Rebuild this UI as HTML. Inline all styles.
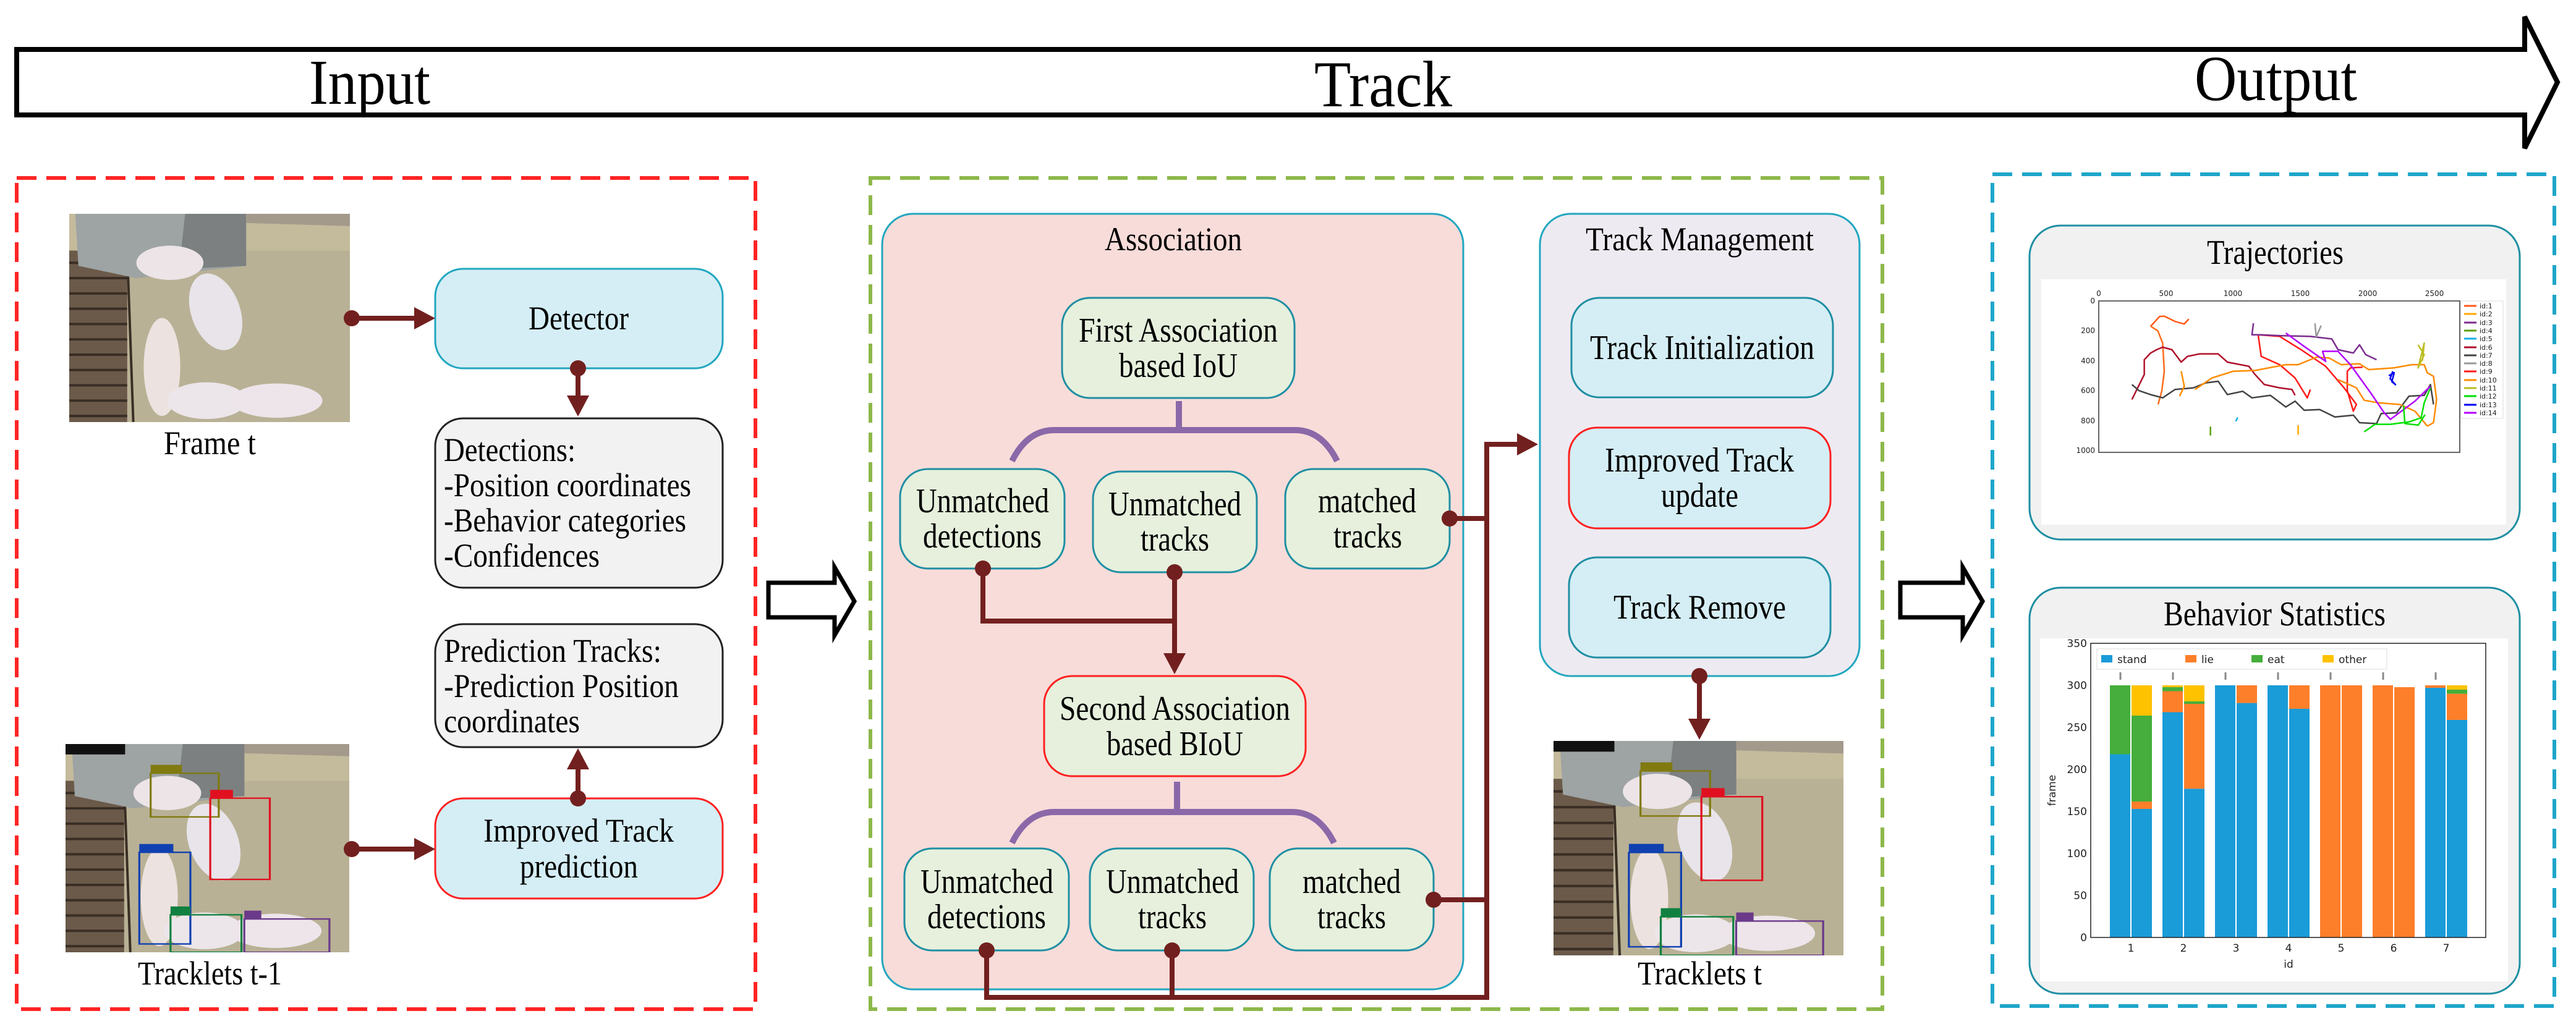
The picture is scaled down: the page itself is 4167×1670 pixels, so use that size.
<!DOCTYPE html>
<html><head><meta charset="utf-8"><style>
html,body{margin:0;padding:0;background:#fff}
svg{display:block}
.t{font-family:"Liberation Serif","DejaVu Serif",serif !important;fill:#000}
.s{font-family:"DejaVu Sans","Liberation Sans",sans-serif}
</style></head><body>
<svg width="4167" height="1670" viewBox="0 0 4167 1670" xmlns="http://www.w3.org/2000/svg">
<defs>
<symbol id="photo" viewBox="0 0 460 340" preserveAspectRatio="none">
<rect width="460" height="340" fill="#c4bb9c"/>
<rect x="90" y="60" width="370" height="280" fill="#b9b195"/>
<rect x="0" y="60" width="95" height="280" fill="#6b5a4a"/>
<g stroke="#3a2e25" stroke-width="4">
<line x1="0" y1="80" x2="95" y2="80"/><line x1="0" y1="105" x2="95" y2="105"/><line x1="0" y1="130" x2="95" y2="130"/><line x1="0" y1="155" x2="95" y2="155"/><line x1="0" y1="180" x2="95" y2="180"/><line x1="0" y1="205" x2="95" y2="205"/><line x1="0" y1="230" x2="95" y2="230"/><line x1="0" y1="255" x2="95" y2="255"/><line x1="0" y1="280" x2="95" y2="280"/><line x1="0" y1="305" x2="95" y2="305"/><line x1="0" y1="330" x2="95" y2="330"/>
<line x1="95" y1="60" x2="105" y2="340"/></g>
<polygon points="10,0 290,0 290,85 110,105 15,85" fill="#9ea3a3"/>
<polygon points="190,0 290,0 290,85 180,90" fill="#7c8080"/>
<polygon points="290,0 460,0 460,20 290,15" fill="#a39a8c"/>
<ellipse cx="165" cy="80" rx="55" ry="28" fill="#ece4e6"/>
<ellipse cx="240" cy="160" rx="40" ry="65" fill="#e8e4ea" transform="rotate(-20 240 160)"/>
<ellipse cx="152" cy="250" rx="30" ry="80" fill="#ece2df"/>
<ellipse cx="225" cy="305" rx="65" ry="30" fill="#ece6ea"/>
<ellipse cx="340" cy="305" rx="75" ry="28" fill="#ede5ea"/>
</symbol>
<symbol id="boxes" viewBox="0 0 100 100" preserveAspectRatio="none">
<g fill="none" stroke-width="0.7">
<rect x="30" y="14" width="24" height="21" stroke="#807a10"/>
<rect x="51" y="26" width="21" height="39" stroke="#e01020"/>
<rect x="26" y="52" width="18" height="44" stroke="#1040b0"/>
<rect x="37" y="82" width="25" height="18" stroke="#108040"/>
<rect x="63" y="84" width="30" height="16" stroke="#6a3a8a"/></g>
<rect x="0" y="0" width="21" height="5" fill="#111"/>
<rect x="30" y="10" width="11" height="4" fill="#807a10"/>
<rect x="51" y="22" width="8" height="4" fill="#e01020"/>
<rect x="26" y="48" width="12" height="4" fill="#1040b0"/>
<rect x="37" y="78" width="7" height="4" fill="#108040"/>
<rect x="63" y="80" width="6" height="4" fill="#6a3a8a"/>
</symbol>
</defs>

<!-- top arrow -->
<polygon points="27,80 4084,80 4084,27 4137,133 4084,240 4084,186 27,186" fill="#fff" stroke="#000" stroke-width="8" stroke-linejoin="miter"/>
<g class="t" font-family="Liberation Serif, serif" lengthAdjust="spacingAndGlyphs">
<text class="t" x="500" y="168" font-size="104" textLength="196" lengthAdjust="spacingAndGlyphs">Input</text>
<text class="t" x="2126" y="172" font-size="106" textLength="223" lengthAdjust="spacingAndGlyphs">Track</text>
<text class="t" x="3550" y="162" font-size="104" textLength="263" lengthAdjust="spacingAndGlyphs">Output</text>
</g>

<!-- dashed regions -->
<rect x="27" y="288" width="1195" height="1345" fill="none" stroke="#ff2424" stroke-width="6" stroke-dasharray="32 16"/>
<rect x="1408" y="288" width="1637" height="1345" fill="none" stroke="#8db84a" stroke-width="6" stroke-dasharray="32 16"/>
<rect x="3223" y="282" width="909" height="1346" fill="none" stroke="#1ea6c9" stroke-width="6" stroke-dasharray="32 16"/>

<!-- LEFT -->
<use href="#photo" x="112" y="346" width="454" height="337"/>
<use href="#photo" x="106" y="1204" width="459" height="337"/>
<use href="#boxes" x="106" y="1204" width="459" height="337"/>

<rect x="704" y="435" width="465" height="161" rx="45" fill="#d5eef5" stroke="#22a7c0" stroke-width="3"/>
<rect x="704" y="677" width="465" height="274" rx="45" fill="#f2f2f2" stroke="#222" stroke-width="3"/>
<rect x="704" y="1010" width="465" height="199" rx="45" fill="#f2f2f2" stroke="#222" stroke-width="3"/>
<rect x="704" y="1292" width="465" height="162" rx="45" fill="#d5eef5" stroke="#ff2020" stroke-width="3"/>

<g font-size="54" font-family="Liberation Serif, serif">
<text class="t" x="265" y="735" textLength="149" lengthAdjust="spacingAndGlyphs">Frame t</text>
<text class="t" x="223" y="1593" textLength="233" lengthAdjust="spacingAndGlyphs">Tracklets t-1</text>
<text class="t" x="855" y="533" textLength="162" lengthAdjust="spacingAndGlyphs">Detector</text>
<text class="t" x="718" y="746" textLength="213" lengthAdjust="spacingAndGlyphs">Detections:</text>
<text class="t" x="718" y="803" textLength="400" lengthAdjust="spacingAndGlyphs">-Position coordinates</text>
<text class="t" x="718" y="860" textLength="392" lengthAdjust="spacingAndGlyphs">-Behavior categories</text>
<text class="t" x="718" y="917" textLength="252" lengthAdjust="spacingAndGlyphs">-Confidences</text>
<text class="t" x="718" y="1071" textLength="352" lengthAdjust="spacingAndGlyphs">Prediction Tracks:</text>
<text class="t" x="718" y="1128" textLength="380" lengthAdjust="spacingAndGlyphs">-Prediction Position</text>
<text class="t" x="718" y="1185" textLength="220" lengthAdjust="spacingAndGlyphs">coordinates</text>
<text class="t" x="782" y="1362" textLength="308" lengthAdjust="spacingAndGlyphs">Improved Track</text>
<text class="t" x="841" y="1420" textLength="191" lengthAdjust="spacingAndGlyphs">prediction</text>
</g>

<g stroke="#72201f" stroke-width="8" fill="none">
<line x1="569" y1="515" x2="675" y2="515"/>
<line x1="935" y1="596" x2="935" y2="645"/>
<line x1="569" y1="1374" x2="675" y2="1374"/>
<line x1="935" y1="1292" x2="935" y2="1240"/>
</g>
<g fill="#72201f">
<circle cx="569" cy="515" r="13"/><polygon points="670,497 704,515 670,533"/>
<circle cx="935" cy="596" r="13"/><polygon points="917,640 953,640 935,674"/>
<circle cx="569" cy="1374" r="13"/><polygon points="670,1356 704,1374 670,1392"/>
<circle cx="935" cy="1292" r="13"/><polygon points="917,1245 953,1245 935,1211"/>
</g>

<!-- hollow arrows -->
<polygon points="1243,943 1350,943 1350,918 1382,973 1350,1028 1350,999 1243,999" fill="#fff" stroke="#000" stroke-width="7"/>
<polygon points="3074,943 3175,943 3175,918 3207,973 3175,1028 3175,999 3074,999" fill="#fff" stroke="#000" stroke-width="7"/>

<!-- MIDDLE -->
<rect x="1427" y="346" width="940" height="1255" rx="50" fill="#f8dcd9" stroke="#22a7c0" stroke-width="3"/>
<rect x="2491" y="346" width="517" height="748" rx="50" fill="#eeeaf1" stroke="#22a7c0" stroke-width="3"/>

<g stroke="#1f8fa3" stroke-width="3" fill="#e6f0dd">
<rect x="1718" y="482" width="376" height="162" rx="45"/>
<rect x="1456" y="759" width="266" height="161" rx="45"/>
<rect x="1768" y="763" width="265" height="163" rx="45"/>
<rect x="2079" y="759" width="266" height="161" rx="45"/>
<rect x="1463" y="1373" width="266" height="165" rx="45"/>
<rect x="1763" y="1373" width="265" height="165" rx="45"/>
<rect x="2054" y="1373" width="265" height="165" rx="45"/>
</g>
<rect x="1689" y="1094" width="423" height="162" rx="45" fill="#e6f0dd" stroke="#ff2020" stroke-width="3"/>
<rect x="2542" y="482" width="423" height="161" rx="45" fill="#d5eef5" stroke="#1f8fa3" stroke-width="3"/>
<rect x="2538" y="692" width="423" height="163" rx="45" fill="#d5eef5" stroke="#ff2020" stroke-width="3"/>
<rect x="2538" y="902" width="423" height="162" rx="45" fill="#d5eef5" stroke="#1f8fa3" stroke-width="3"/>

<g font-size="56" font-family="Liberation Serif, serif">
<text class="t" x="1787" y="405" font-size="54" textLength="222" lengthAdjust="spacingAndGlyphs">Association</text>
<text class="t" x="2565" y="405" font-size="54" textLength="369" lengthAdjust="spacingAndGlyphs">Track Management</text>
<text class="t" x="1745" y="553" textLength="322" lengthAdjust="spacingAndGlyphs">First Association</text>
<text class="t" x="1810" y="610" textLength="192" lengthAdjust="spacingAndGlyphs">based IoU</text>
<text class="t" x="1482" y="829" textLength="215" lengthAdjust="spacingAndGlyphs">Unmatched</text>
<text class="t" x="1493" y="886" textLength="192" lengthAdjust="spacingAndGlyphs">detections</text>
<text class="t" x="1793" y="834" textLength="215" lengthAdjust="spacingAndGlyphs">Unmatched</text>
<text class="t" x="1845" y="891" textLength="111" lengthAdjust="spacingAndGlyphs">tracks</text>
<text class="t" x="2132" y="829" textLength="159" lengthAdjust="spacingAndGlyphs">matched</text>
<text class="t" x="2157" y="886" textLength="111" lengthAdjust="spacingAndGlyphs">tracks</text>
<text class="t" x="1714" y="1165" textLength="373" lengthAdjust="spacingAndGlyphs">Second Association</text>
<text class="t" x="1790" y="1222" textLength="221" lengthAdjust="spacingAndGlyphs">based BIoU</text>
<text class="t" x="1489" y="1445" textLength="215" lengthAdjust="spacingAndGlyphs">Unmatched</text>
<text class="t" x="1500" y="1502" textLength="192" lengthAdjust="spacingAndGlyphs">detections</text>
<text class="t" x="1789" y="1445" textLength="215" lengthAdjust="spacingAndGlyphs">Unmatched</text>
<text class="t" x="1841" y="1502" textLength="111" lengthAdjust="spacingAndGlyphs">tracks</text>
<text class="t" x="2107" y="1445" textLength="159" lengthAdjust="spacingAndGlyphs">matched</text>
<text class="t" x="2131" y="1502" textLength="111" lengthAdjust="spacingAndGlyphs">tracks</text>
<text class="t" x="2572" y="581" textLength="363" lengthAdjust="spacingAndGlyphs">Track Initialization</text>
<text class="t" x="2596" y="763" textLength="306" lengthAdjust="spacingAndGlyphs">Improved Track</text>
<text class="t" x="2687" y="820" textLength="125" lengthAdjust="spacingAndGlyphs">update</text>
<text class="t" x="2610" y="1001" textLength="279" lengthAdjust="spacingAndGlyphs">Track Remove</text>
<text class="t" x="2649" y="1593" font-size="54" textLength="201" lengthAdjust="spacingAndGlyphs">Tracklets t</text>
</g>

<g stroke="#8b68a8" stroke-width="10" fill="none">
<path d="M1907,649 V696 M1637,746 Q1662,696 1705,696 H2095 Q2138,696 2163,746"/>
<path d="M1904,1265 V1314 M1637,1364 Q1662,1314 1705,1314 H2090 Q2133,1314 2158,1364"/>
</g>

<use href="#photo" x="2513" y="1199" width="469" height="347"/>
<use href="#boxes" x="2513" y="1199" width="469" height="347"/>

<g stroke="#72201f" stroke-width="8" fill="none" stroke-linejoin="miter">
<polyline points="1590,920 1590,1005 1900,1005"/>
<line x1="1900" y1="926" x2="1900" y2="1060"/>
<line x1="2345" y1="839" x2="2405" y2="839"/>
<line x1="2319" y1="1456" x2="2405" y2="1456"/>
<polyline points="1596,1538 1596,1614 2405,1614 2405,719 2460,719"/>
<line x1="1896" y1="1538" x2="1896" y2="1614"/>
<line x1="2749" y1="1094" x2="2749" y2="1165"/>
</g>
<g fill="#72201f">
<circle cx="1590" cy="920" r="13"/><circle cx="1900" cy="926" r="13"/>
<polygon points="1882,1057 1918,1057 1900,1091"/>
<circle cx="2345" cy="839" r="13"/><circle cx="2319" cy="1456" r="13"/>
<circle cx="1596" cy="1538" r="13"/><circle cx="1896" cy="1538" r="13"/>
<polygon points="2454,701 2488,719 2454,737"/>
<circle cx="2749" cy="1094" r="13"/><polygon points="2731,1163 2767,1163 2749,1197"/>
</g>

<!-- RIGHT -->
<rect x="3283" y="365" width="793" height="508" rx="50" fill="#f1f1f1" stroke="#1f8fa3" stroke-width="3"/>
<rect x="3302" y="452" width="752" height="397" fill="#fff"/>
<rect x="3283" y="951" width="793" height="657" rx="50" fill="#f1f1f1" stroke="#1f8fa3" stroke-width="3"/>
<rect x="3300" y="1033" width="757" height="555" fill="#fff"/>
<g font-size="56" font-family="Liberation Serif, serif">
<text class="t" x="3570" y="427" textLength="221" lengthAdjust="spacingAndGlyphs">Trajectories</text>
<text class="t" x="3500" y="1012" textLength="359" lengthAdjust="spacingAndGlyphs">Behavior Statistics</text>
</g>

<!-- trajectories plot -->
<rect x="3395" y="487" width="584" height="245" fill="none" stroke="#333" stroke-width="1.5"/>
<g class="s" font-size="12" fill="#222" text-anchor="middle">
<text x="3395" y="479">0</text><text x="3504" y="479">500</text><text x="3612" y="479">1000</text><text x="3721" y="479">1500</text><text x="3830" y="479">2000</text><text x="3938" y="479">2500</text>
</g>
<g class="s" font-size="12" fill="#222" text-anchor="end">
<text x="3389" y="491">0</text><text x="3389" y="539">200</text><text x="3389" y="588">400</text><text x="3389" y="636">600</text><text x="3389" y="685">800</text><text x="3389" y="733">1000</text>
</g>
<g transform="translate(3395,487) scale(0.2172,0.242)" fill="none" stroke-width="2.5" stroke-linejoin="round">
<polyline vector-effect="non-scaling-stroke" stroke="#ff5a1a" points="385,171 453,104 488,102 568,137 637,154 671,121"/>
<polyline vector-effect="non-scaling-stroke" stroke="#ff6a1a" points="390,171 440,200 476,282 488,470 470,600 442,692"/>
<polyline vector-effect="non-scaling-stroke" stroke="#b0102a" points="247,659 339,492 339,393 385,349 431,326 476,309 545,326 614,409 660,371 751,354 889,354 958,409 1118,437 1164,492 1233,559 1347,581 1439,592 1462,631"/>
<polyline vector-effect="non-scaling-stroke" stroke="#444" points="247,559 300,600 385,626 476,648 568,592 705,581 797,548 889,537 958,626 1072,604 1141,648 1278,631 1393,709 1462,670 1530,731 1645,726 1759,776 1897,764 1942,814 2069,820 2103,753 2218,748 2310,637 2424,631 2470,559 2493,692"/>
<polyline vector-effect="non-scaling-stroke" stroke="#ff1a1a" points="1187,226 1210,371 1347,426 1462,515 1553,648 1576,592"/>
<polyline vector-effect="non-scaling-stroke" stroke="#ff1a1a" points="1187,226 1347,237 1507,326 1690,437 1827,581 1919,692 1896,737 1851,600 1851,470 1874,448 1965,443"/>
<polyline vector-effect="non-scaling-stroke" stroke="#ff8c00" points="717,592 843,515 1003,470 1164,465 1393,426 1485,426 1622,376 1714,381 1805,426 1942,420 2011,459 2195,448 2332,426 2424,426 2447,481 2493,504 2516,659 2493,814 2447,837"/>
<polyline vector-effect="non-scaling-stroke" stroke="#ff8c00" points="614,470 637,570 602,637"/>
<polyline vector-effect="non-scaling-stroke" stroke="#ff8c00" points="1782,526 1919,581 1977,664 2080,681 2241,692 2355,737 2447,837"/>
<polyline vector-effect="non-scaling-stroke" stroke="#7b2d8e" points="1152,149 1141,226 1210,226 1347,232 1576,237 1736,254 1782,326 1896,348 1942,293 1988,359 2069,393"/>
<polyline vector-effect="non-scaling-stroke" stroke="#b400ff" points="1393,215 1530,304 1690,404 1667,337 1782,337 1874,426 2034,626 2126,748 2172,792 2355,670 2470,570"/>
<polyline vector-effect="non-scaling-stroke" stroke="#00e000" points="1977,875 2057,825 2172,825 2310,809 2401,781 2424,681 2470,581"/>
<polyline vector-effect="non-scaling-stroke" stroke="#00e000" points="2270,700 2280,820 2380,830 2430,760"/>
<polyline vector-effect="non-scaling-stroke" stroke="#bcbd22" points="2378,293 2424,359 2378,448 2424,282 2410,400"/>
<polyline vector-effect="non-scaling-stroke" stroke="#0000ee" points="2160,500 2200,480 2183,540 2210,560 2170,520 2190,470"/>
<polyline vector-effect="non-scaling-stroke" stroke="#999" points="1610,150 1620,240 1656,165"/>
<polyline vector-effect="non-scaling-stroke" stroke="#10b0e8" points="1020,805 1035,780"/>
<polyline vector-effect="non-scaling-stroke" stroke="#5aa010" points="832,840 832,900"/>
<polyline vector-effect="non-scaling-stroke" stroke="#ffaa00" points="1485,830 1485,895"/>
</g>
<rect x="3981" y="487" width="68" height="190" fill="#fff" stroke="#ddd" stroke-width="1"/>
<g stroke-width="3">
<line x1="3986" y1="495" x2="4006" y2="495" stroke="#ff5a1a"/><line x1="3986" y1="508" x2="4006" y2="508" stroke="#ffaa00"/><line x1="3986" y1="522" x2="4006" y2="522" stroke="#7b2d8e"/><line x1="3986" y1="535" x2="4006" y2="535" stroke="#5aa010"/><line x1="3986" y1="548" x2="4006" y2="548" stroke="#10b0e8"/><line x1="3986" y1="562" x2="4006" y2="562" stroke="#b0102a"/><line x1="3986" y1="575" x2="4006" y2="575" stroke="#444"/><line x1="3986" y1="588" x2="4006" y2="588" stroke="#999"/><line x1="3986" y1="601" x2="4006" y2="601" stroke="#ff1a1a"/><line x1="3986" y1="615" x2="4006" y2="615" stroke="#ff8c00"/><line x1="3986" y1="628" x2="4006" y2="628" stroke="#bcbd22"/><line x1="3986" y1="641" x2="4006" y2="641" stroke="#00e000"/><line x1="3986" y1="655" x2="4006" y2="655" stroke="#0000ee"/><line x1="3986" y1="668" x2="4006" y2="668" stroke="#b400ff"/>
</g>
<g class="s" font-size="11" fill="#222">
<text x="4011" y="499">id:1</text><text x="4011" y="512">id:2</text><text x="4011" y="526">id:3</text><text x="4011" y="539">id:4</text><text x="4011" y="552">id:5</text><text x="4011" y="566">id:6</text><text x="4011" y="579">id:7</text><text x="4011" y="592">id:8</text><text x="4011" y="605">id:9</text><text x="4011" y="619">id:10</text><text x="4011" y="632">id:11</text><text x="4011" y="645">id:12</text><text x="4011" y="659">id:13</text><text x="4011" y="672">id:14</text>
</g>

<!-- bar chart -->
<g>
<rect x="3413" y="1220.5" width="33" height="296.5" fill="#1a9cd8"/><rect x="3413" y="1109" width="33" height="111.5" fill="#45ae3c"/>
<rect x="3448" y="1309" width="33" height="208" fill="#1a9cd8"/><rect x="3448" y="1297" width="33" height="12" fill="#fe7f2a"/><rect x="3448" y="1158" width="33" height="139" fill="#45ae3c"/><rect x="3448" y="1109" width="33" height="49" fill="#ffc200"/>
<rect x="3498" y="1152.5" width="33" height="364.5" fill="#1a9cd8"/><rect x="3498" y="1118.5" width="33" height="34" fill="#fe7f2a"/><rect x="3498" y="1112" width="33" height="6.5" fill="#45ae3c"/><rect x="3498" y="1109" width="33" height="3" fill="#ffc200"/>
<rect x="3533" y="1276.3" width="33" height="240.7" fill="#1a9cd8"/><rect x="3533" y="1139" width="33" height="137.3" fill="#fe7f2a"/><rect x="3533" y="1135" width="33" height="4" fill="#45ae3c"/><rect x="3533" y="1109" width="33" height="26" fill="#ffc200"/>
<rect x="3583" y="1109" width="33" height="408" fill="#1a9cd8"/>
<rect x="3618" y="1137.6" width="33" height="379.4" fill="#1a9cd8"/><rect x="3618" y="1109" width="33" height="28.6" fill="#fe7f2a"/>
<rect x="3668" y="1109" width="33" height="408" fill="#1a9cd8"/>
<rect x="3703" y="1147" width="33" height="370" fill="#1a9cd8"/><rect x="3703" y="1109" width="33" height="38" fill="#fe7f2a"/>
<rect x="3753" y="1109" width="33" height="408" fill="#fe7f2a"/><rect x="3788" y="1109" width="33" height="408" fill="#fe7f2a"/>
<rect x="3838" y="1109" width="33" height="408" fill="#fe7f2a"/><rect x="3873" y="1112" width="33" height="405" fill="#fe7f2a"/>
<rect x="3923" y="1113" width="33" height="404" fill="#1a9cd8"/><rect x="3923" y="1109" width="33" height="4" fill="#fe7f2a"/>
<rect x="3958" y="1165" width="33" height="352" fill="#1a9cd8"/><rect x="3958" y="1122.6" width="33" height="42.4" fill="#fe7f2a"/><rect x="3958" y="1116" width="33" height="6.6" fill="#45ae3c"/><rect x="3958" y="1109" width="33" height="7" fill="#ffc200"/>
</g>
<g stroke="#888" stroke-width="3" fill="#888">
<line x1="3430" y1="1088" x2="3430" y2="1100"/><line x1="3515" y1="1088" x2="3515" y2="1100"/><line x1="3600" y1="1088" x2="3600" y2="1100"/><line x1="3685" y1="1088" x2="3685" y2="1100"/><line x1="3770" y1="1088" x2="3770" y2="1100"/><line x1="3855" y1="1088" x2="3855" y2="1100"/><line x1="3940" y1="1088" x2="3940" y2="1100"/>
</g>
<rect x="3382" y="1041" width="639" height="476" fill="none" stroke="#222" stroke-width="1.5"/>
<rect x="3392" y="1050" width="469" height="33" fill="#fff" stroke="#ddd" stroke-width="1"/>
<rect x="3399" y="1060" width="18" height="12" fill="#1a9cd8"/><rect x="3535" y="1060" width="18" height="12" fill="#fe7f2a"/><rect x="3642" y="1060" width="18" height="12" fill="#45ae3c"/><rect x="3757" y="1060" width="18" height="12" fill="#ffc200"/>
<g class="s" font-size="17" fill="#222">
<text x="3425" y="1073">stand</text><text x="3561" y="1073">lie</text><text x="3668" y="1073">eat</text><text x="3783" y="1073">other</text>
</g>
<g class="s" font-size="17" fill="#222" text-anchor="end">
<text x="3376" y="1523">0</text><text x="3376" y="1455">50</text><text x="3376" y="1387">100</text><text x="3376" y="1319">150</text><text x="3376" y="1251">200</text><text x="3376" y="1183">250</text><text x="3376" y="1115">300</text><text x="3376" y="1047">350</text>
</g>
<g class="s" font-size="17" fill="#222" text-anchor="middle">
<text x="3447" y="1540">1</text><text x="3532" y="1540">2</text><text x="3617" y="1540">3</text><text x="3702" y="1540">4</text><text x="3787" y="1540">5</text><text x="3872" y="1540">6</text><text x="3957" y="1540">7</text>
<text x="3702" y="1566">id</text>
<text x="3325" y="1279" transform="rotate(-90 3325 1279)">frame</text>
</g>
</svg>
</body></html>
